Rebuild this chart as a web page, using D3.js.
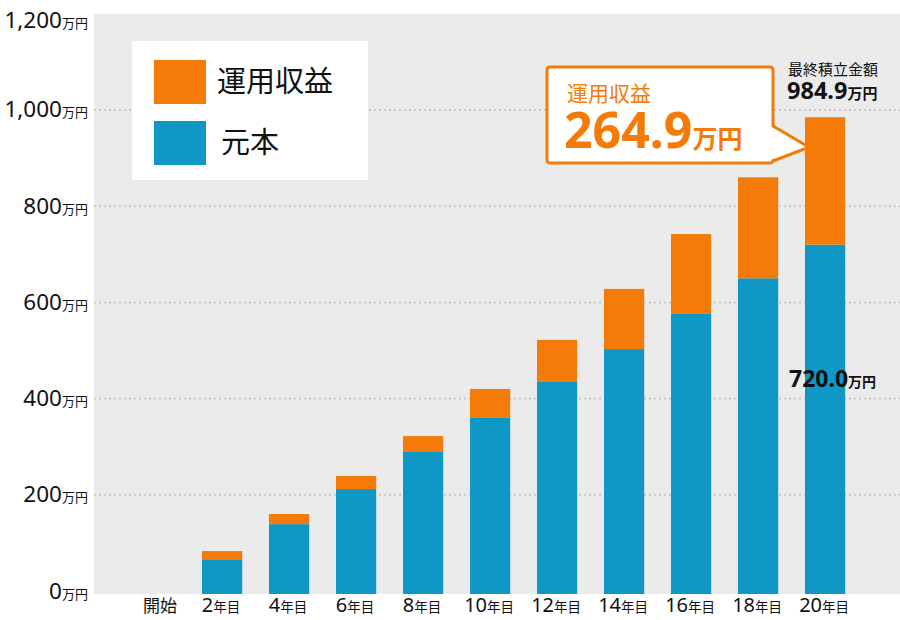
<!DOCTYPE html>
<html>
<head>
<meta charset="utf-8">
<script src="https://cdn.jsdelivr.net/npm/d3@7"></script>
<style>
  body { margin: 0; background: #fff; }
  text { font-family: "Noto Sans", "Noto Sans CJK JP", sans-serif; }
</style>
</head>
<body>
<div class="graph_container"></div>
<script>
const w = 900;
const h = 620;

// data (万円)
const categories = ["開始", "2年目", "4年目", "6年目", "8年目", "10年目", "12年目", "14年目", "16年目", "18年目", "20年目"];
const principal = [0, 66, 139, 212, 289, 361, 436, 503, 576, 650, 720];
const gain = [0, 17, 21, 27, 33, 59, 86, 125, 166, 210, 264.9];
const yTicks = [0, 200, 400, 600, 800, 1000, 1200];
const seriesNames = ["運用収益", "元本"];

const orange = "#f47b07";
const blue = "#0f98c5";

const plot = { left: 94, right: 900, top: 14, bottom: 594 };

const svg = d3.select(".graph_container").append("svg").attr("width", w).attr("height", h);

var yScale = d3.scaleLinear().domain([0, 1200]).range([591, 13.75]);
var xScale = d3.scaleBand().domain(categories).range([121.6, 858.6])
  .paddingInner(0.4).paddingOuter(0.2);

// background
svg.append("rect")
  .attr("x", plot.left).attr("y", plot.top)
  .attr("width", plot.right - plot.left).attr("height", plot.bottom - plot.top)
  .attr("fill", "#ebebeb");

// grid
svg.append("g").selectAll("line")
  .data(yTicks.filter(d => d > 0 && d < 1200))
  .enter().append("line")
  .attr("x1", plot.left).attr("x2", plot.right)
  .attr("y1", d => yScale(d)).attr("y2", d => yScale(d))
  .attr("stroke", "#c9c9c9").attr("stroke-width", 2)
  .attr("stroke-dasharray", "2,3");

// stacked bars
var rows = categories.map((c, i) => ({ cat: c, principal: principal[i], gain: gain[i] }));
var stack = d3.stack().keys(["principal", "gain"])(rows);
var colors = { principal: blue, gain: orange };

svg.append("g").selectAll("g")
  .data(stack)
  .enter().append("g")
  .attr("fill", s => colors[s.key])
  .selectAll("rect")
  .data(s => s)
  .enter().append("rect")
  .attr("x", d => xScale(d.data.cat))
  .attr("width", xScale.bandwidth())
  .attr("y", d => yScale(d[1]))
  .attr("height", d => {
    // bottom segment runs down to the plot floor
    var base = d[0] === 0 ? plot.bottom : yScale(d[0]);
    return Math.max(0, base - yScale(d[1]));
  })
  .attr("display", d => d[1] - d[0] > 0 ? null : "none");

// y axis labels
var yl = svg.append("g").selectAll("text")
  .data(yTicks)
  .enter().append("text")
  .attr("x", 88)
  .attr("y", d => Math.max(yScale(d) + 7.5, 28))
  .attr("text-anchor", "end")
  .attr("fill", "#111");
yl.append("tspan").attr("font-size", 22.5).text(d => d3.format(",")(d));
yl.append("tspan").attr("font-size", 13).text("万円");

// x axis labels
var xl = svg.append("g").selectAll("text")
  .data(categories)
  .enter().append("text")
  .attr("x", d => xScale(d) + xScale.bandwidth() / 2 + (/^\d/.test(d) ? -1 : 5))
  .attr("y", 612)
  .attr("text-anchor", "middle")
  .attr("fill", "#111");
xl.each(function (d) {
  var m = d.match(/^(\d+)(.*)$/);
  var t = d3.select(this);
  if (m) {
    t.append("tspan").attr("font-size", 20).text(m[1]);
    t.append("tspan").attr("font-size", 13.5).text(m[2]);
  } else {
    t.append("tspan").attr("font-size", 17).text(d);
  }
});

// legend
var legend = svg.append("g").attr("id", "legend");
legend.append("rect")
  .attr("x", 132).attr("y", 41).attr("width", 236).attr("height", 139)
  .attr("fill", "#fff");
var li = legend.selectAll("g")
  .data(seriesNames)
  .enter().append("g")
  .attr("transform", (d, i) => "translate(154," + (60 + i * 61) + ")");
li.append("rect")
  .attr("width", 52).attr("height", 44)
  .attr("fill", (d, i) => i === 0 ? orange : blue);
li.append("text")
  .attr("x", (d, i) => i === 0 ? 63 : 67)
  .attr("y", 32)
  .attr("font-size", 29)
  .attr("fill", "#111")
  .text(d => d);

// callout for the last gain
var last = categories.length - 1;
var total = principal[last] + gain[last];
var bx = xScale(categories[last]);

var callout = svg.append("g");
callout.append("rect")
  .attr("x", 547).attr("y", 67).attr("width", 226).attr("height", 96)
  .attr("rx", 3)
  .attr("fill", "#fff").attr("stroke", orange).attr("stroke-width", 3);
callout.append("path")
  .attr("d", "M770,126 L" + (bx + 4) + "," + (yScale(total) + 30) + " L770,160 Z")
  .attr("fill", "#fff");
callout.append("path")
  .attr("d", "M773,126 L" + (bx + 4) + "," + (yScale(total) + 30) + " L773,161")
  .attr("fill", "none").attr("stroke", orange).attr("stroke-width", 3)
  .attr("stroke-linejoin", "miter");
callout.append("text")
  .attr("x", 567).attr("y", 101)
  .attr("font-size", 21).attr("fill", orange)
  .text(seriesNames[0]);
var big = callout.append("text")
  .attr("x", 564).attr("y", 148)
  .attr("fill", orange).attr("font-weight", "bold");
big.append("tspan").attr("font-size", 50).text(d3.format(".1f")(gain[last]));
big.append("tspan").attr("font-size", 25).text("万円");

// total label
svg.append("text")
  .attr("x", 788).attr("y", 75)
  .attr("font-size", 15).attr("fill", "#111")
  .text("最終積立金額");
var tt = svg.append("text")
  .attr("x", 787).attr("y", 99)
  .attr("fill", "#111").attr("font-weight", "bold");
tt.append("tspan").attr("font-size", 23.5).text(d3.format(".1f")(total));
tt.append("tspan").attr("font-size", 15).text("万円");

// principal label
var pl = svg.append("text")
  .attr("x", bx - 16).attr("y", 387)
  .attr("fill", "#111").attr("font-weight", "bold");
pl.append("tspan").attr("font-size", 23).text(d3.format(".1f")(principal[last]));
pl.append("tspan").attr("font-size", 14).text("万円");
</script>
</body>
</html>
